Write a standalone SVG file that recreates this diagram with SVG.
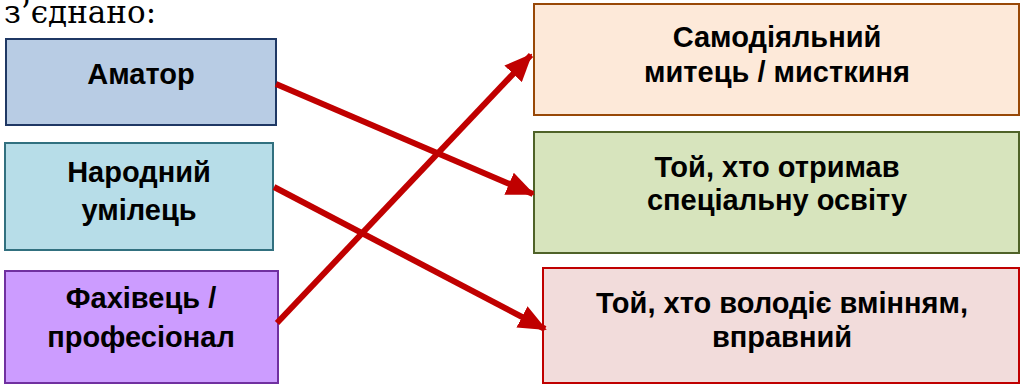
<svg xmlns="http://www.w3.org/2000/svg" width="1022" height="386" viewBox="0 0 1022 386">
<style>
.lbl{font-family:"Liberation Sans",Arial,sans-serif;font-weight:bold;font-size:29px;fill:#000;text-anchor:middle}
.title{font-family:"DejaVu Serif","Liberation Serif",serif;font-size:31px;fill:#000}
.box{stroke-width:2}
.conn{stroke:#c00000;stroke-width:6;fill:none}
</style>
<defs>
<marker id="ah" markerUnits="userSpaceOnUse" markerWidth="28" markerHeight="24" refX="26" refY="12" orient="auto">
<path d="M0,0 L28,12 L0,24 Z" fill="#c00000"/>
</marker>
</defs>
<rect width="1022" height="386" fill="#fff"/>
<text class="title" x="4" y="23">з’єднано:</text>
<g id="n-amator">
<rect class="box" x="6" y="39" width="270" height="86" fill="#b8cce4" stroke="#1f3864"/>
<text class="lbl" x="141" y="84">Аматор</text>
</g>
<g id="n-narodnyi">
<rect class="box" x="5" y="143" width="268" height="107" fill="#b7dde8" stroke="#31707f"/>
<text class="lbl" x="139" y="182">Народний</text>
<text class="lbl" x="139" y="220">умілець</text>
</g>
<g id="n-fakhivets">
<rect class="box" x="5" y="271" width="273" height="112" fill="#cc9cff" stroke="#7030a0"/>
<text class="lbl" x="141" y="308">Фахівець /</text>
<text class="lbl" x="141" y="347">професіонал</text>
</g>
<g id="n-samodiialnyi">
<rect class="box" x="534" y="4" width="485" height="111" fill="#fde9d9" stroke="#984807"/>
<text class="lbl" x="777" y="47">Самодіяльний</text>
<text class="lbl" x="777" y="82">митець / мисткиня</text>
</g>
<g id="n-osvita">
<rect class="box" x="534" y="132" width="485" height="121" fill="#d7e4bd" stroke="#4f6228"/>
<text class="lbl" x="777" y="177">Той, хто отримав</text>
<text class="lbl" x="777" y="210">спеціальну освіту</text>
</g>
<g id="n-vminnia">
<rect class="box" x="543" y="268" width="476" height="115" fill="#f2dcdb" stroke="#c00000"/>
<text class="lbl" x="782" y="313">Той, хто володіє вмінням,</text>
<text class="lbl" x="782" y="347">вправний</text>
</g>
<g id="connectors">
<line class="conn" x1="276" y1="84" x2="533" y2="194" marker-end="url(#ah)"/>
<line class="conn" x1="274" y1="187" x2="545" y2="329" marker-end="url(#ah)"/>
<line class="conn" x1="277" y1="323" x2="531" y2="55" marker-end="url(#ah)"/>
</g>
</svg>
